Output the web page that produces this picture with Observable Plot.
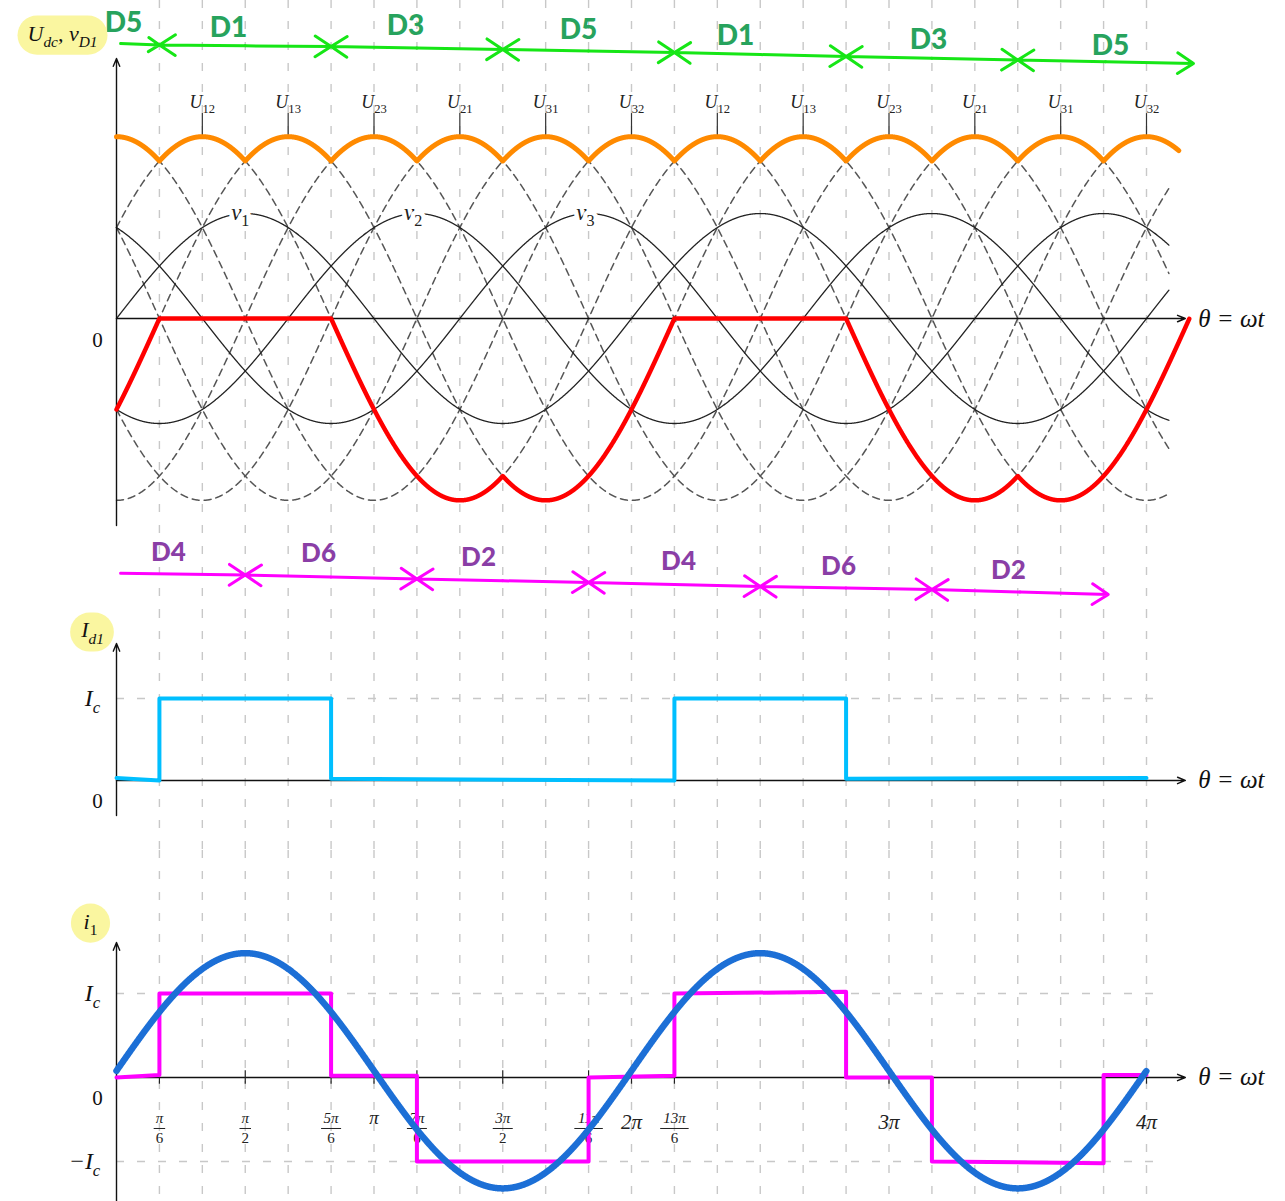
<!DOCTYPE html>
<html><head><meta charset="utf-8">
<script src="https://cdn.jsdelivr.net/npm/d3@7"></script>
<script src="https://cdn.jsdelivr.net/npm/@observablehq/plot@0.6"></script>
<style>
html,body{margin:0;padding:0;background:#fff;}
#chart{width:1285px;height:1201px;overflow:hidden;}
#chart svg{display:block;overflow:visible;}
</style></head><body><div id="chart"></div>
<script>
const PI = Math.PI;

// ---------------- data ----------------
const gridTheta = [PI/6, PI/3, PI/2, 2*PI/3, 5*PI/6, PI, 7*PI/6, 4*PI/3, 3*PI/2, 5*PI/3, 11*PI/6, 2*PI,
  13*PI/6, 7*PI/3, 5*PI/2, 8*PI/3, 17*PI/6, 3*PI, 19*PI/6, 10*PI/3, 7*PI/2, 11*PI/3, 23*PI/6, 4*PI];

// phase voltages v1, v2, v3 (amplitude 1)
const phaseNames = ["v_{1}", "v_{2}", "v_{3}"];
const phaseShift = [0, -2*PI/3, 2*PI/3];
const phaseLabelTheta = [1.51, 3.62, 5.72];
const phaseLabelValue = [1.01, 1.01, 1.01];

// line voltages
const linePairs = [[0,1],[0,2],[1,2],[1,0],[2,0],[2,1]];
const lineNames = ["U_{12}","U_{13}","U_{23}","U_{21}","U_{31}","U_{32}"];
const lineLabelTheta = [PI/3, 2*PI/3, PI, 4*PI/3, 5*PI/3, 2*PI, 7*PI/3, 8*PI/3, 3*PI, 10*PI/3, 11*PI/3, 4*PI];
const lineLabelNames = ["U_{12}","U_{13}","U_{23}","U_{21}","U_{31}","U_{32}","U_{12}","U_{13}","U_{23}","U_{21}","U_{31}","U_{32}"];
const thinEnd = 12.84, envEnd = 12.96, redEnd = 25*PI/6;

// conducting diodes (upper group, green) and lower group (magenta)
const topConductTheta = [0.05, PI/6, 5*PI/6, 3*PI/2, 13*PI/6, 17*PI/6, 7*PI/2, 13.14];
const topConductLevel = [2.619, 2.605, 2.590, 2.562, 2.533, 2.495, 2.462, 2.429];
const topDiodes = ["D5","D1","D3","D5","D1","D3","D5"];
const topDiodeTheta = [0.085, 1.367, 3.526, 5.637, 7.552, 9.907, 12.128];
const topDiodeLevel = [2.81, 2.771, 2.79, 2.743, 2.695, 2.648, 2.60];

const botConductTheta = [0.05, PI/2, 7*PI/6, 11*PI/6, 5*PI/2, 19*PI/6, 12.10];
const botConductLevel = [-2.427, -2.443, -2.481, -2.514, -2.552, -2.581, -2.629];
const botDiodes = ["D4","D6","D2","D4","D6","D2"];
const botDiodeTheta = [0.634, 2.465, 4.417, 6.857, 8.809, 10.883];
const botDiodeLevel = [-2.229, -2.238, -2.276, -2.314, -2.362, -2.40];

// diode D1 current
const idTheta = [0, PI/6, PI/6, 5*PI/6, 5*PI/6, 13*PI/6, 13*PI/6, 17*PI/6, 17*PI/6, 4*PI];
const idValue = [0.03, 0.0, 1.0, 1.0, 0.02, 0.0, 1.0, 1.0, 0.02, 0.03];

// line current i1
const i1Theta = [0, PI/6, PI/6, 5*PI/6, 5*PI/6, 7*PI/6, 7*PI/6, 11*PI/6, 11*PI/6, 13*PI/6, 13*PI/6,
  17*PI/6, 17*PI/6, 19*PI/6, 19*PI/6, 23*PI/6, 23*PI/6, 4*PI];
const i1Value = [0.0, 0.03, 1.0, 1.0, 0.02, 0.02, -1.0, -1.0, 0.0, 0.02, 1.0, 1.02, 0.0, 0.0, -1.0, -1.02, 0.03, 0.03];
const fundAmp = 1.4, fundOffset = 0.08;

// x tick labels (bottom panel)
const xTickValues = [PI/6, PI/2, 5*PI/6, PI, 7*PI/6, 3*PI/2, 11*PI/6, 2*PI, 13*PI/6, 3*PI, 4*PI];
const xTickNum = ["π","π","5π","π","7π","3π","11π","2π","13π","3π","4π"];
const xTickDen = ["6","2","6","","6","2","6","","6","",""];

const hlLabels = ["U_{dc}, v_{D1}", "I_{d1}", "i_{1}"];

// ---------------- helpers ----------------
const W = 1285;
const X0 = 116, X1 = 1146;
const pxPerUnit = (X1 - X0) / (4*PI);
const serif = "'Liberation Serif', 'DejaVu Serif', serif";
const sans = "Lato, 'Open Sans', sans-serif";
const gridStyle = {stroke: "#c8c8c8", strokeWidth: 1.4, strokeDasharray: "8,13"};

const phase = (i, t) => Math.sin(t + phaseShift[i]);
function sampled(t1, f, step = 0.004) {
  const out = [];
  for (let t = 0; t <= t1 + 1e-9; t += step) out.push({t, v: f(t)});
  return out;
}
const phaseData = phaseNames.flatMap((n, i) => sampled(thinEnd, t => phase(i, t)).map(d => ({...d, name: n})));
const lineData = linePairs.flatMap(([a, b], k) => sampled(thinEnd, t => phase(a, t) - phase(b, t)).map(d => ({...d, name: lineNames[k]})));
const maxPhase = t => Math.max(phase(0, t), phase(1, t), phase(2, t));
const minPhase = t => Math.min(phase(0, t), phase(1, t), phase(2, t));
const envData = sampled(envEnd, t => maxPhase(t) - minPhase(t), 0.002);
const redData = sampled(redEnd, t => phase(0, t) - maxPhase(t), 0.002);
const phaseLabels = phaseNames.map((n, i) => ({name: n, t: phaseLabelTheta[i], v: phaseLabelValue[i]}));
const lineLabels = lineLabelNames.map((n, i) => ({name: n, t: lineLabelTheta[i]}));

function segmentArrows(ts, ys) {
  const rows = [];
  for (let i = 0; i < ts.length - 1; i++) {
    if (i === 0) { rows.push({x1: ts[0], y1: ys[0], x2: ts[1], y2: ys[1]}); continue; }
    const mx = (ts[i] + ts[i+1]) / 2, my = (ys[i] + ys[i+1]) / 2;
    rows.push({x1: mx, y1: my, x2: ts[i+1], y2: ys[i+1]});
    rows.push({x1: mx, y1: my, x2: ts[i], y2: ys[i]});
  }
  return rows;
}
const topArrows = segmentArrows(topConductTheta, topConductLevel);
const botArrows = segmentArrows(botConductTheta, botConductLevel);
const topDiodeRows = topDiodes.map((d, i) => ({d, t: topDiodeTheta[i], v: topDiodeLevel[i]}));
const botDiodeRows = botDiodes.map((d, i) => ({d, t: botDiodeTheta[i], v: botDiodeLevel[i]}));

const idData = idTheta.map((t, i) => ({t, v: idValue[i]}));
const i1Data = i1Theta.map((t, i) => ({t, v: i1Value[i]}));
const fundData = sampled(4*PI, t => fundAmp * Math.sin(t) + fundOffset, 0.004);
const ticks = xTickValues.map((v, i) => ({v, num: xTickNum[i], den: xTickDen[i]}));
const fracTicks = ticks.filter(d => d.den);
const singleTicks = ticks.filter(d => !d.den && d.num !== "π");
const piTicks = ticks.filter(d => d.num === "π" && !d.den);
const barHalf = d => (d.num.length * 8.5 + 3) / 2 / pxPerUnit;

const arrowOpts = {x1: "x1", y1: "y1", x2: "x2", y2: "y2"};
const axisArrow = (rows) => Plot.arrow(rows, {...arrowOpts, stroke: "#111", strokeWidth: 1.4, headLength: 9, headAngle: 45});
const label = (txt, opts) => Plot.text([txt], {text: d => d, fontFamily: serif, fill: "#111", ...opts});
const diodeArrowStyle = {strokeWidth: 3, headLength: 9.5, headAngle: 66};
const tickText = {fontFamily: serif, fontStyle: "italic", fill: "#222"};

function make(H, ydom, marks) {
  return Plot.plot({
    width: W, height: H, marginTop: 0, marginBottom: 0, marginLeft: 0, marginRight: 0,
    x: {domain: [0, 4*PI], range: [X0, X1], axis: null},
    y: {domain: ydom, range: [H, 0], axis: null},
    style: {background: "transparent", overflow: "visible"},
    marks
  });
}

// ---------------- top panel ----------------
const topPlot = make(610, [-2.781, 3.029], [
  Plot.ruleX(gridTheta, gridStyle),
  Plot.line(lineData, {x: "t", y: "v", z: "name", stroke: "#555", strokeWidth: 1.5, strokeDasharray: "7,5"}),
  Plot.line(phaseData, {x: "t", y: "v", z: "name", stroke: "#222", strokeWidth: 1.3}),
  Plot.text(phaseLabels, {x: "t", y: "v", text: "name", fontFamily: serif, fontStyle: "italic", fontSize: 23, fill: "#222", stroke: "white", strokeWidth: 9}),
  axisArrow([{x1: 0, y1: 0, x2: 13.04, y2: 0}]),
  axisArrow([{x1: 0, y1: -1.971, x2: 0, y2: 2.476}]),
  Plot.ruleX(lineLabels, {x: "t", y1: Math.sqrt(3), y2: 1.952, stroke: "#333", strokeWidth: 1.2}),
  Plot.text(lineLabels, {x: "t", y: 2.06, text: "name", fontFamily: serif, fontStyle: "italic", fontSize: 18, fill: "#222"}),
  Plot.line(envData, {x: "t", y: "v", stroke: "#ff8a00", strokeWidth: 5, strokeLinejoin: "round"}),
  Plot.line(redData, {x: "t", y: "v", stroke: "#ff0000", strokeWidth: 4.5, strokeLinejoin: "round"}),
  Plot.arrow(topArrows, {...arrowOpts, stroke: "#16e616", ...diodeArrowStyle}),
  Plot.arrow(botArrows, {...arrowOpts, stroke: "#ff00ff", ...diodeArrowStyle}),
  Plot.text(topDiodeRows, {x: "t", y: "v", text: "d", fill: "#27a35d", fontSize: 28, fontWeight: 900, fontFamily: sans}),
  Plot.text(botDiodeRows, {x: "t", y: "v", text: "d", fill: "#8a3ea6", fontSize: 26, fontWeight: 900, fontFamily: sans}),
  label("0", {x: 0, y: 0, dx: -19, dy: 22, fontSize: 21}),
  label("θ = ωt", {x: 13.04, y: 0, dx: 13, textAnchor: "start", fontStyle: "italic", fontSize: 25}),
  label("U_{dc}, v_{D1}", {x: 0, y: 2.714, dx: -54, fontStyle: "italic", fontSize: 22})
]);

// ---------------- middle panel ----------------
const midPlot = make(240, [-0.854, 2.073], [
  Plot.ruleX(gridTheta, gridStyle),
  Plot.ruleY([1], {x1: 0, x2: 12.8, ...gridStyle}),
  axisArrow([{x1: 0, y1: 0, x2: 13.04, y2: 0}]),
  axisArrow([{x1: 0, y1: -0.427, x2: 0, y2: 1.671}]),
  Plot.line(idData, {x: "t", y: "v", stroke: "#00bfff", strokeWidth: 4, strokeLinejoin: "round"}),
  label("I_{c}", {x: 0, y: 1, dx: -24, fontStyle: "italic", fontSize: 24}),
  label("0", {x: 0, y: 0, dx: -19, dy: 21, fontSize: 21}),
  label("I_{d1}", {x: 0, y: 1.83, dx: -24, fontStyle: "italic", fontSize: 22}),
  label("θ = ωt", {x: 13.04, y: 0, dx: 13, textAnchor: "start", fontStyle: "italic", fontSize: 25})
]);

// ---------------- bottom panel ----------------
const botPlot = make(351, [-1.476, 2.702], [
  Plot.ruleX(gridTheta, gridStyle),
  Plot.ruleY([1, -1], {x1: 0, x2: 12.8, ...gridStyle}),
  Plot.text(fracTicks, {x: "v", y: 0, text: "num", dy: 41, fontSize: 15, ...tickText}),
  Plot.text(fracTicks, {x: "v", y: 0, text: "den", dy: 61, fontSize: 15, ...tickText, fontStyle: "normal"}),
  Plot.link(fracTicks, {x1: d => d.v - barHalf(d), x2: d => d.v + barHalf(d), y1: 0, y2: 0, dy: 51, stroke: "#222", strokeWidth: 1}),
  Plot.text(singleTicks, {x: "v", y: 0, text: "num", dy: 45, fontSize: 21, ...tickText}),
  Plot.text(piTicks, {x: "v", y: 0, text: "num", dy: 40, fontSize: 19, ...tickText}),
  axisArrow([{x1: 0, y1: 0, x2: 13.04, y2: 0}]),
  axisArrow([{x1: 0, y1: -1.476, x2: 0, y2: 1.607}]),
  Plot.ruleX(xTickValues, {y1: -0.08, y2: 0.08, stroke: "#222", strokeWidth: 1.2}),
  Plot.line(i1Data, {x: "t", y: "v", stroke: "#ff00ff", strokeWidth: 4, strokeLinejoin: "round"}),
  Plot.line(fundData, {x: "t", y: "v", stroke: "#1c6fd6", strokeWidth: 6.5, strokeLinecap: "round"}),
  label("I_{c}", {x: 0, y: 1, dx: -24, fontStyle: "italic", fontSize: 24}),
  label("0", {x: 0, y: 0, dx: -19, dy: 21, fontSize: 21}),
  label("−I_{c}", {x: 0, y: -1, dx: -32, fontStyle: "italic", fontSize: 24}),
  label("i_{1}", {x: 0, y: 1.857, dx: -26, fontStyle: "italic", fontSize: 22}),
  label("θ = ωt", {x: 13.04, y: 0, dx: 13, textAnchor: "start", fontStyle: "italic", fontSize: 25})
]);

const root = document.getElementById("chart");
[topPlot, midPlot, botPlot].forEach(s => root.appendChild(s));

// ---------------- subscripts and highlights ----------------
const NS = "http://www.w3.org/2000/svg";
function addHighlight(el) {
  const b = el.getBBox();
  const px = 10, py = 5;
  let w = b.width + 2*px, h = b.height + 2*py;
  if (w < h) w = h;
  const cx = b.x + b.width/2;
  const r = document.createElementNS(NS, "rect");
  r.setAttribute("x", cx - w/2);
  r.setAttribute("y", b.y - py);
  r.setAttribute("width", w);
  r.setAttribute("height", h);
  r.setAttribute("rx", h/2);
  r.setAttribute("fill", "#faf6a0");
  r.setAttribute("stroke", "none");
  const tr = el.getAttribute("transform");
  if (tr) r.setAttribute("transform", tr);
  el.parentNode.insertBefore(r, el);
}
function mathify(svg) {
  svg.querySelectorAll("text").forEach(el => {
    const raw = el.textContent;
    if (raw.includes("_{")) {
      const fs = parseFloat(getComputedStyle(el).fontSize) || 16;
      const subSize = fs * 0.7, shift = fs * 0.28;
      while (el.firstChild) el.removeChild(el.firstChild);
      let inSub = false;
      const add = (txt, isSub) => {
        if (!txt) return;
        const ts = document.createElementNS(NS, "tspan");
        ts.textContent = txt;
        if (isSub) {
          ts.setAttribute("font-size", subSize);
          ts.setAttribute("dy", shift);
          if (/^\d+$/.test(txt)) ts.setAttribute("font-style", "normal");
          inSub = true;
        } else if (inSub) {
          ts.setAttribute("dy", -shift);
          inSub = false;
        }
        el.appendChild(ts);
      };
      const re = /_\{([^}]*)\}/g;
      let last = 0, m;
      while ((m = re.exec(raw))) {
        add(raw.slice(last, m.index), false);
        add(m[1], true);
        last = re.lastIndex;
      }
      add(raw.slice(last), false);
    }
    if (hlLabels.includes(raw)) addHighlight(el);
  });
}
[topPlot, midPlot, botPlot].forEach(mathify);
</script>
</body></html>
